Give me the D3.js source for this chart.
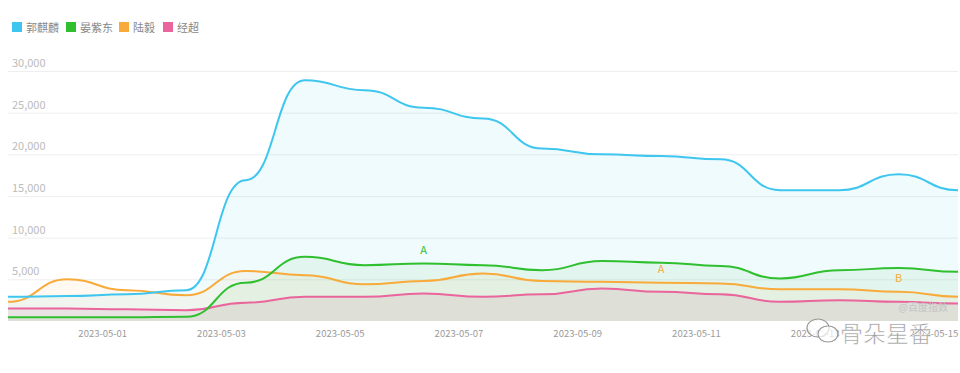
<!DOCTYPE html>
<html>
<head>
<meta charset="utf-8">
<script src="https://cdn.jsdelivr.net/npm/d3@7"></script>
<style>
  body { margin:0; background:#fff; }
  svg { font-family: "Noto Sans CJK SC", "Noto Sans", sans-serif; }
</style>
</head>
<body>
<script>
  var w = 960, h = 373;

  // daily points, 2023-04-29 .. 2023-05-15
  var dates = ["2023-04-29","2023-04-30","2023-05-01","2023-05-02","2023-05-03","2023-05-04",
               "2023-05-05","2023-05-06","2023-05-07","2023-05-08","2023-05-09","2023-05-10",
               "2023-05-11","2023-05-12","2023-05-13","2023-05-14","2023-05-15"];
  var names = ["郭麒麟","晏紫东","陆毅","经超"];
  var colors = ["#3ec6ee","#2fbf2f","#f8aa3a","#ea659c"];
  var guoQilin  = [2900,3000,3200,3700,16900,28900,27700,25600,24300,20700,20000,19800,19400,15700,15700,17600,15700];
  var yanZidong = [450,450,450,500,4600,7700,6700,6900,6700,6100,7200,7000,6600,5100,6100,6350,5900];
  var luYi      = [2300,5000,3700,3100,6000,5500,4400,4800,5700,4800,4700,4600,4500,3800,3800,3500,2900];
  var jingChao  = [1500,1500,1400,1300,2200,2900,2900,3300,2900,3200,3900,3500,3200,2300,2500,2300,2100];
  var yTicks = [5000,10000,15000,20000,25000,30000];
  var xTicks = ["2023-05-01","2023-05-03","2023-05-05","2023-05-07","2023-05-09","2023-05-11","2023-05-13","2023-05-15"];
  // letter marks on the lines: [series, date, letter]
  var marks = [[1,"2023-05-06","A"],[2,"2023-05-10","A"],[2,"2023-05-14","B"]];

  var series = [guoQilin, yanZidong, luYi, jingChao];
  var parse = d3.timeParse("%Y-%m-%d");

  var x = d3.scaleTime().domain([parse(dates[0]), parse(dates[dates.length-1])]).range([8, 958]);
  var y = d3.scaleLinear().domain([0, 30000]).range([321, 71]);

  var svg = d3.select("body").append("svg").attr("width", w).attr("height", h);

  // grid
  svg.selectAll("line.grid").data(yTicks).enter().append("line")
    .attr("x1", 8).attr("x2", 958)
    .attr("y1", function(d){ return y(d) + 0.5; })
    .attr("y2", function(d){ return y(d) + 0.5; })
    .attr("stroke", "#eeeeee");
  svg.selectAll("text.yl").data(yTicks).enter().append("text")
    .attr("x", 12).attr("y", function(d){ return y(d) - 4; })
    .attr("fill", "#bcbcbc").attr("font-size", 11)
    .text(d3.format(","));

  var area = d3.area().curve(d3.curveBumpX)
    .x(function(d,i){ return x(parse(dates[i])); })
    .y0(y(0)).y1(function(d){ return y(d); });
  var line = d3.line().curve(d3.curveBumpX)
    .x(function(d,i){ return x(parse(dates[i])); })
    .y(function(d){ return y(d); });

  var fills = ["#3ec6ee","#2fbf2f","#f8aa3a","#b46a8a"];
  var ops = [0.08, 0.07, 0.07, 0.12];
  series.forEach(function(s, k){
    svg.append("path").datum(s).attr("d", area)
      .attr("fill", fills[k]).attr("fill-opacity", ops[k]);
  });
  series.slice().reverse().forEach(function(s, j){
    var k = series.length - 1 - j;
    svg.append("path").datum(s).attr("d", line)
      .attr("fill", "none").attr("stroke", colors[k]).attr("stroke-width", 2);
  });

  // x labels
  svg.selectAll("text.xl").data(xTicks).enter().append("text")
    .attr("x", function(d){ return x(parse(d)) - 24; })
    .attr("y", 337).attr("text-anchor", "middle")
    .attr("fill", "#9a9a9a").attr("font-size", 9.5)
    .text(function(d){ return d; });

  // letter marks
  marks.forEach(function(m){
    var i = dates.indexOf(m[1]);
    svg.append("text").attr("x", x(parse(m[1]))).attr("y", y(series[m[0]][i]) - 10)
      .attr("text-anchor", "middle").attr("font-size", 11)
      .attr("fill", colors[m[0]]).text(m[2]);
  });

  // legend
  var lg = svg.selectAll("g.lg").data(names).enter().append("g")
    .attr("transform", function(d,i){ return "translate(" + [12, 66, 119, 163][i] + ",22)"; });
  lg.append("rect").attr("width", 10).attr("height", 10)
    .attr("fill", function(d,i){ return colors[i]; });
  lg.append("text").attr("x", 14).attr("y", 9.5).attr("font-size", 11)
    .attr("fill", "#888").text(function(d){ return d; });

  // watermarks
  svg.append("text").attr("x", 948).attr("y", 311).attr("text-anchor", "end")
    .attr("font-size", 10).attr("fill", "#c4c4c4").text("@百度指数");
  var wm = svg.append("g").attr("transform", "translate(806,318)");
  wm.append("ellipse").attr("cx", 12).attr("cy", 10).attr("rx", 11).attr("ry", 9)
    .attr("fill", "rgba(255,255,255,0.7)").attr("stroke", "#999").attr("stroke-width", 1.2);
  wm.append("ellipse").attr("cx", 22).attr("cy", 16).attr("rx", 10).attr("ry", 8)
    .attr("fill", "rgba(255,255,255,0.7)").attr("stroke", "#999").attr("stroke-width", 1.2);
  wm.append("text").attr("x", 34).attr("y", 24).attr("font-size", 23)
    .attr("fill", "#8a8a8a").attr("fill-opacity", 0.85)
    .attr("stroke", "#fff").attr("stroke-width", 0.6)
    .text("骨朵星番");
</script>
</body>
</html>
